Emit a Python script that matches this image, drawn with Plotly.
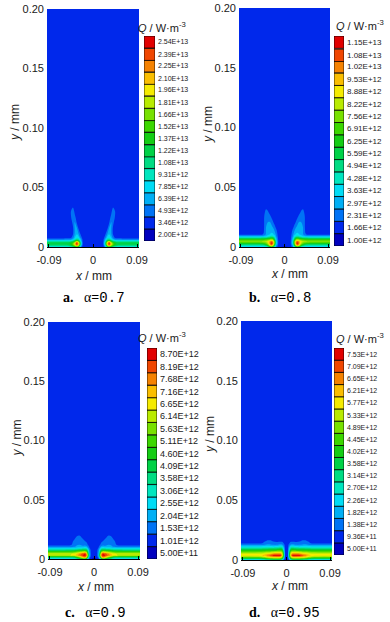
import numpy as np
import plotly.graph_objects as go

W, H = 390, 622

# ---------------- colour legend (17 Tecplot-style levels, bottom -> top) ----------------
level_colors = ['rgb(0,0,190)', 'rgb(0,40,235)', 'rgb(0,115,245)', 'rgb(0,175,245)', 'rgb(0,220,245)',
                'rgb(0,230,190)', 'rgb(0,220,130)', 'rgb(0,210,70)', 'rgb(20,205,20)', 'rgb(60,215,0)',
                'rgb(120,225,0)', 'rgb(185,235,0)', 'rgb(245,235,0)', 'rgb(250,190,0)', 'rgb(245,130,0)',
                'rgb(240,70,0)', 'rgb(225,0,0)']

labels_a = ["2.00E+12", "3.46E+12", "4.93E+12", "6.39E+12", "7.85E+12", "9.31E+12", "1.08E+13", "1.22E+13",
            "1.37E+13", "1.52E+13", "1.66E+13", "1.81E+13", "1.96E+13", "2.10E+13", "2.25E+13", "2.39E+13", "2.54E+13"]
labels_b = ["1.00E+12", "1.66E+12", "2.31E+12", "2.97E+12", "3.63E+12", "4.28E+12", "4.94E+12", "5.59E+12",
            "6.25E+12", "6.91E+12", "7.56E+12", "8.22E+12", "8.88E+12", "9.53E+12", "1.02E+13", "1.08E+13", "1.15E+13"]
labels_c = ["5.00E+11", "1.01E+12", "1.53E+12", "2.04E+12", "2.55E+12", "3.06E+12", "3.58E+12", "4.09E+12",
            "4.60E+12", "5.11E+12", "5.63E+12", "6.14E+12", "6.65E+12", "7.16E+12", "7.68E+12", "8.19E+12", "8.70E+12"]
labels_d = ["5.00E+11", "9.36E+11", "1.38E+12", "1.82E+12", "2.26E+12", "2.70E+12", "3.14E+12", "3.58E+12",
            "4.02E+12", "4.45E+12", "4.89E+12", "5.33E+12", "5.77E+12", "6.21E+12", "6.65E+12", "7.09E+12", "7.53E+12"]

# ---------------- Q fields, read as legend level (0..16) on half domain x>=0 (symmetric) ----------------
# panel a, alpha = 0.7
x_a = [0, 0.015, 0.021, 0.025, 0.029, 0.033, 0.037, 0.041, 0.045, 0.050, 0.060, 0.095]
y_a = [0, 0.0012, 0.0025, 0.0038, 0.005, 0.0065, 0.008, 0.011, 0.015, 0.020, 0.025, 0.030, 0.035, 0.2]
lev_a = [
    [0.5, 0.7, 1.0, 2.5, 6.0, 8.0, 6.5, 5.5, 4.5, 4.0, 4.0, 4.0],
    [0.8, 1.0, 1.3, 4.0, 10.0, 13.5, 10.5, 8.5, 7.0, 6.3, 6.0, 6.0],
    [1.0, 1.0, 1.5, 5.0, 12.5, 16.5, 12.5, 9.5, 8.0, 7.2, 7.0, 7.0],
    [1.0, 1.0, 1.5, 5.0, 11.5, 15.0, 11.0, 8.5, 7.5, 7.0, 6.8, 6.8],
    [1.0, 1.0, 1.3, 4.0, 8.0, 9.5, 7.5, 6.0, 5.3, 5.0, 5.0, 5.0],
    [1.0, 1.0, 1.2, 3.0, 5.0, 5.5, 4.5, 3.0, 2.2, 1.9, 1.8, 1.8],
    [1.0, 1.0, 1.0, 2.0, 3.8, 4.2, 3.5, 2.0, 1.3, 1.1, 1.1, 1.1],
    [1.0, 1.0, 1.0, 1.3, 2.4, 3.4, 2.7, 1.4, 1.0, 1.0, 1.0, 1.0],
    [1.0, 1.0, 1.0, 1.0, 1.4, 2.8, 2.6, 1.3, 1.0, 1.0, 1.0, 1.0],
    [1.0, 1.0, 1.0, 1.0, 1.0, 1.5, 2.7, 1.7, 1.0, 1.0, 1.0, 1.0],
    [1.0, 1.0, 1.0, 1.0, 1.0, 1.1, 1.7, 2.5, 1.4, 1.0, 1.0, 1.0],
    [1.0, 1.0, 1.0, 1.0, 1.0, 1.0, 1.2, 2.0, 1.5, 1.0, 1.0, 1.0],
    [1.0, 1.0, 1.0, 1.0, 1.0, 1.0, 1.0, 1.2, 1.1, 1.0, 1.0, 1.0],
    [1.0, 1.0, 1.0, 1.0, 1.0, 1.0, 1.0, 1.0, 1.0, 1.0, 1.0, 1.0],
]

# panel b, alpha = 0.8
x_b = [0, 0.008, 0.013, 0.017, 0.021, 0.024, 0.027, 0.030, 0.034, 0.038, 0.043, 0.050, 0.062, 0.095]
y_b = [0, 0.0015, 0.003, 0.0045, 0.006, 0.0075, 0.009, 0.0105, 0.013, 0.017, 0.021, 0.025, 0.029, 0.034, 0.2]
lev_b = [
    [0.3, 0.5, 1.0, 2.0, 5.0, 7.0, 8.0, 7.0, 5.0, 4.0, 3.5, 3.5, 3.5, 3.5],
    [1.0, 1.0, 1.3, 3.0, 8.0, 12.0, 14.0, 12.0, 9.0, 7.0, 6.0, 5.5, 5.5, 5.5],
    [1.0, 1.0, 1.5, 4.0, 10.0, 14.5, 16.5, 14.0, 11.0, 9.5, 8.5, 8.2, 8.0, 8.0],
    [1.0, 1.0, 1.5, 4.0, 10.0, 13.5, 15.0, 13.5, 12.0, 11.0, 10.8, 10.5, 10.5, 10.5],
    [1.0, 1.0, 1.4, 3.5, 8.0, 10.5, 11.0, 10.5, 10.0, 9.5, 9.2, 9.0, 9.0, 9.0],
    [1.0, 1.0, 1.3, 3.0, 6.0, 7.5, 8.0, 7.5, 7.0, 6.5, 6.2, 6.0, 6.0, 6.0],
    [1.0, 1.0, 1.2, 2.5, 4.2, 4.8, 5.0, 4.7, 4.2, 3.7, 3.2, 3.0, 3.0, 3.0],
    [1.0, 1.0, 1.1, 2.2, 3.3, 3.8, 3.9, 3.6, 3.1, 2.7, 1.6, 1.3, 1.3, 1.3],
    [1.0, 1.0, 1.0, 1.8, 2.7, 3.1, 3.2, 3.0, 2.8, 2.6, 1.4, 1.0, 1.0, 1.0],
    [1.0, 1.0, 1.0, 1.2, 1.8, 2.4, 2.7, 2.7, 2.6, 2.5, 1.3, 1.0, 1.0, 1.0],
    [1.0, 1.0, 1.0, 1.0, 1.2, 1.6, 2.2, 2.5, 2.5, 2.4, 1.3, 1.0, 1.0, 1.0],
    [1.0, 1.0, 1.0, 1.0, 1.0, 1.1, 1.4, 1.8, 2.2, 2.3, 1.3, 1.0, 1.0, 1.0],
    [1.0, 1.0, 1.0, 1.0, 1.0, 1.0, 1.05, 1.2, 1.6, 1.8, 1.2, 1.0, 1.0, 1.0],
    [1.0, 1.0, 1.0, 1.0, 1.0, 1.0, 1.0, 1.0, 1.1, 1.2, 1.0, 1.0, 1.0, 1.0],
    [1.0, 1.0, 1.0, 1.0, 1.0, 1.0, 1.0, 1.0, 1.0, 1.0, 1.0, 1.0, 1.0, 1.0],
]

# panel c, alpha = 0.9
x_c = [0, 0.005, 0.009, 0.012, 0.015, 0.018, 0.021, 0.025, 0.030, 0.035, 0.040, 0.048, 0.060, 0.095]
y_c = [0, 0.0015, 0.003, 0.0045, 0.006, 0.0075, 0.009, 0.0105, 0.012, 0.015, 0.018, 0.021, 0.025, 0.2]
lev_c = [
    [0.3, 0.5, 1.2, 3.0, 6.0, 8.0, 8.0, 7.0, 6.0, 5.0, 4.0, 3.5, 3.5, 3.5],
    [0.6, 0.8, 2.0, 6.0, 11.0, 14.0, 13.5, 12.0, 10.0, 8.5, 7.0, 6.5, 6.3, 6.3],
    [0.8, 1.0, 2.5, 8.0, 14.0, 16.5, 16.0, 15.0, 14.0, 13.0, 12.0, 11.5, 11.3, 11.3],
    [0.8, 1.0, 2.5, 7.5, 13.0, 15.5, 15.0, 14.5, 13.5, 12.5, 11.8, 11.3, 11.2, 11.2],
    [0.9, 1.0, 2.3, 6.0, 10.0, 11.5, 11.5, 11.0, 10.5, 10.0, 9.5, 9.2, 9.0, 9.0],
    [1.0, 1.0, 2.0, 4.5, 7.0, 7.5, 7.5, 7.2, 7.0, 6.5, 6.3, 6.1, 6.0, 6.0],
    [1.0, 1.0, 1.6, 3.0, 4.5, 5.0, 4.8, 4.6, 4.5, 4.3, 4.1, 4.0, 4.0, 4.0],
    [1.0, 1.0, 1.2, 2.0, 2.8, 3.0, 2.8, 2.8, 2.9, 2.8, 2.3, 2.0, 2.0, 2.0],
    [1.0, 1.0, 1.0, 1.4, 1.9, 2.1, 2.1, 2.3, 2.5, 2.4, 2.0, 1.3, 1.2, 1.2],
    [1.0, 1.0, 1.0, 1.1, 1.3, 1.5, 1.7, 2.0, 2.2, 2.1, 1.7, 1.1, 1.0, 1.0],
    [1.0, 1.0, 1.0, 1.0, 1.05, 1.1, 1.2, 1.5, 1.8, 1.7, 1.3, 1.0, 1.0, 1.0],
    [1.0, 1.0, 1.0, 1.0, 1.0, 1.0, 1.0, 1.1, 1.3, 1.2, 1.05, 1.0, 1.0, 1.0],
    [1.0, 1.0, 1.0, 1.0, 1.0, 1.0, 1.0, 1.0, 1.0, 1.0, 1.0, 1.0, 1.0, 1.0],
    [1.0, 1.0, 1.0, 1.0, 1.0, 1.0, 1.0, 1.0, 1.0, 1.0, 1.0, 1.0, 1.0, 1.0],
]

# panel d, alpha = 0.95
x_d = [0, 0.003, 0.006, 0.009, 0.012, 0.016, 0.021, 0.027, 0.033, 0.039, 0.045, 0.052, 0.065, 0.095]
y_d = [0, 0.0013, 0.0026, 0.0039, 0.0052, 0.0066, 0.008, 0.0095, 0.011, 0.0125, 0.014, 0.016, 0.019, 0.2]
lev_d = [
    [0.3, 0.6, 2.0, 4.0, 5.0, 5.5, 5.5, 5.5, 5.0, 4.5, 4.0, 3.5, 3.2, 3.2],
    [0.5, 1.0, 4.0, 8.0, 9.5, 10.0, 10.0, 9.8, 9.5, 9.0, 8.0, 7.2, 7.0, 7.0],
    [0.6, 1.3, 6.0, 11.0, 13.0, 13.5, 13.5, 13.3, 13.0, 12.5, 11.5, 10.8, 10.5, 10.5],
    [0.6, 1.5, 7.0, 13.0, 16.0, 16.5, 16.5, 16.0, 15.0, 14.0, 13.0, 12.3, 12.0, 12.0],
    [0.6, 1.5, 7.0, 12.0, 13.5, 13.8, 13.8, 13.5, 13.0, 12.5, 12.0, 11.6, 11.5, 11.5],
    [0.7, 1.5, 6.0, 10.5, 11.5, 11.5, 11.3, 11.0, 10.8, 10.5, 10.3, 10.1, 10.0, 10.0],
    [0.8, 1.5, 5.0, 8.5, 9.0, 9.0, 8.8, 8.5, 8.5, 8.3, 8.2, 8.0, 8.0, 8.0],
    [0.9, 1.4, 4.0, 6.5, 7.0, 6.8, 6.5, 6.3, 6.3, 6.2, 6.1, 6.0, 6.0, 6.0],
    [1.0, 1.3, 3.0, 4.5, 4.8, 4.5, 4.2, 4.1, 4.2, 4.3, 4.1, 4.0, 4.0, 4.0],
    [1.0, 1.2, 2.2, 2.8, 3.0, 2.8, 2.6, 2.6, 2.8, 2.9, 2.7, 2.5, 2.5, 2.5],
    [1.0, 1.1, 1.5, 1.8, 1.9, 1.8, 1.7, 1.8, 2.0, 2.0, 1.8, 1.4, 1.3, 1.3],
    [1.0, 1.0, 1.2, 1.3, 1.3, 1.3, 1.3, 1.4, 1.6, 1.6, 1.4, 1.1, 1.0, 1.0],
    [1.0, 1.0, 1.0, 1.0, 1.0, 1.0, 1.0, 1.0, 1.0, 1.0, 1.0, 1.0, 1.0, 1.0],
    [1.0, 1.0, 1.0, 1.0, 1.0, 1.0, 1.0, 1.0, 1.0, 1.0, 1.0, 1.0, 1.0, 1.0],
]

x_ticks = [-0.09, 0, 0.09]
x_ticktext = ["-0.09", "0", "0.09"]
y_ticks = [0, 0.05, 0.10, 0.15, 0.20]
y_ticktext = ["0", "0.05", "0.10", "0.15", "0.20"]
caption_letters = ["a.", "b.", "c.", "d."]
caption_alpha = ["0.7", "0.8", "0.9", "0.95"]

# ---------------- layout geometry (pixels) ----------------
panels = [
    dict(x=x_a, y=y_a, lev=lev_a, labels=labels_a,
         px=(47, 139), py=(9, 247), lx=(144, 155), ly=(36, 241), lfont=7,
         qt=(161.5, 27), yt=(15, 123), xt=(93, 276), cp=(93.5, 298)),
    dict(x=x_b, y=y_b, lev=lev_b, labels=labels_b,
         px=(239, 330), py=(8, 247), lx=(334, 344), ly=(36, 246), lfont=8,
         qt=(360, 25), yt=(208, 125), xt=(289, 274), cp=(280, 298)),
    dict(x=x_c, y=y_c, lev=lev_c, labels=labels_c,
         px=(48, 140), py=(322, 559), lx=(147, 157), ly=(348, 559), lfont=9,
         qt=(161.5, 337), yt=(16.5, 438), xt=(95, 587), cp=(95, 613)),
    dict(x=x_d, y=y_d, lev=lev_d, labels=labels_d,
         px=(241, 332), py=(321, 560), lx=(334, 344), ly=(348, 555), lfont=7,
         qt=(360, 338), yt=(210, 435), xt=(289, 586), cp=(284, 613)),
]


def fx(p):
    return p / W


def fy(p):
    return 1 - p / H


colorscale = [[i / 16, c] for i, c in enumerate(level_colors)]
fig = go.Figure()
layout = dict(width=W, height=H, margin=dict(l=0, r=0, t=0, b=0, autoexpand=False),
              paper_bgcolor='white', plot_bgcolor='white', showlegend=False, annotations=[])
ann = layout['annotations']
sans = 'Liberation Sans, Arial, sans-serif'
tick_font = dict(family=sans, size=11, color='#1a1a1a')

for i, p in enumerate(panels):
    values = [float(s) for s in p['labels']]
    step = (values[-1] - values[0]) / 16
    xh = np.array(p['x'])
    xfull = np.concatenate([-xh[::-1][:-1], xh])
    lev = np.array(p['lev'])
    levfull = np.concatenate([lev[:, ::-1][:, :-1], lev], axis=1)
    q = np.interp(levfull, np.arange(17), values)

    mx = 2 * i + 1
    lg = 2 * i + 2
    fig.add_trace(go.Contour(
        x=xfull, y=p['y'], z=q, xaxis=f'x{mx}', yaxis=f'y{mx}',
        colorscale=colorscale, showscale=False, autocontour=False,
        contours=dict(start=values[0] + step / 2, end=values[0] + 15.5 * step, size=step,
                      coloring='fill', showlines=False),
        line=dict(width=0, smoothing=1), hoverinfo='skip'))
    fig.add_trace(go.Bar(
        x=[0] * 17, y=[step] * 17, base=[v - step / 2 for v in values], width=1,
        marker=dict(color=level_colors, line=dict(color='black', width=0.8)),
        xaxis=f'x{lg}', yaxis=f'y{lg}', hoverinfo='skip'))

    layout[f'xaxis{mx}'] = dict(domain=[fx(p['px'][0]), fx(p['px'][1])], anchor=f'y{mx}',
                                range=[-0.094, 0.094], tickvals=x_ticks, ticktext=x_ticktext,
                                showgrid=False, zeroline=False, ticks='inside', ticklen=3,
                                tickcolor='black', showline=True, linecolor='black', linewidth=1,
                                tickfont=tick_font, ticklabelstandoff=3)
    layout[f'yaxis{mx}'] = dict(domain=[fy(p['py'][1]), fy(p['py'][0])], anchor=f'x{mx}',
                                range=[0, 0.2], tickvals=y_ticks, ticktext=y_ticktext,
                                showgrid=False, zeroline=False, ticks='', tickfont=tick_font,
                                ticklabelstandoff=2)
    layout[f'xaxis{lg}'] = dict(domain=[fx(p['lx'][0]), fx(p['lx'][1])], anchor=f'y{lg}',
                                range=[-0.5, 0.5], visible=False, fixedrange=True)
    layout[f'yaxis{lg}'] = dict(domain=[fy(p['ly'][1]), fy(p['ly'][0])], anchor=f'x{lg}',
                                range=[values[0] - step / 2, values[-1] + step / 2],
                                tickvals=values, ticktext=p['labels'], side='right',
                                showgrid=False, zeroline=False, ticks='', showline=False,
                                ticklabelstandoff=2,
                                tickfont=dict(family=sans, size=p['lfont'], color='#1a1a1a'))

    ann.append(dict(x=fx(p['qt'][0]), y=fy(p['qt'][1]), xref='paper', yref='paper', showarrow=False,
                    text='<i>Q</i> / W·m<sup>-3</sup>', xanchor='center', yanchor='middle',
                    font=dict(family=sans, size=11, color='#1a1a1a')))
    ann.append(dict(x=fx(p['yt'][0]), y=fy(p['yt'][1]), xref='paper', yref='paper', showarrow=False,
                    text='<i>y</i> / mm', textangle=-90, xanchor='center', yanchor='middle',
                    font=dict(family=sans, size=12, color='#1a1a1a')))
    ann.append(dict(x=fx(p['xt'][0]), y=fy(p['xt'][1]), xref='paper', yref='paper', showarrow=False,
                    text='<i>x</i> / mm', xanchor='center', yanchor='middle',
                    font=dict(family=sans, size=12, color='#1a1a1a')))
    cap = (f"<b>{caption_letters[i]}</b>\u00a0\u00a0\u00a0α<b>=</b>"
           f"<span style='font-family:Liberation Mono, monospace'>{caption_alpha[i]}</span>")
    ann.append(dict(x=fx(p['cp'][0]), y=fy(p['cp'][1]), xref='paper', yref='paper', showarrow=False,
                    text=cap, xanchor='center', yanchor='middle',
                    font=dict(family='Liberation Serif, serif', size=14, color='black')))

fig.update_layout(**layout)
fig.write_html("out.html", config={'displayModeBar': False},
               post_script="document.body.style.margin='0px';document.body.style.overflow='hidden';")
